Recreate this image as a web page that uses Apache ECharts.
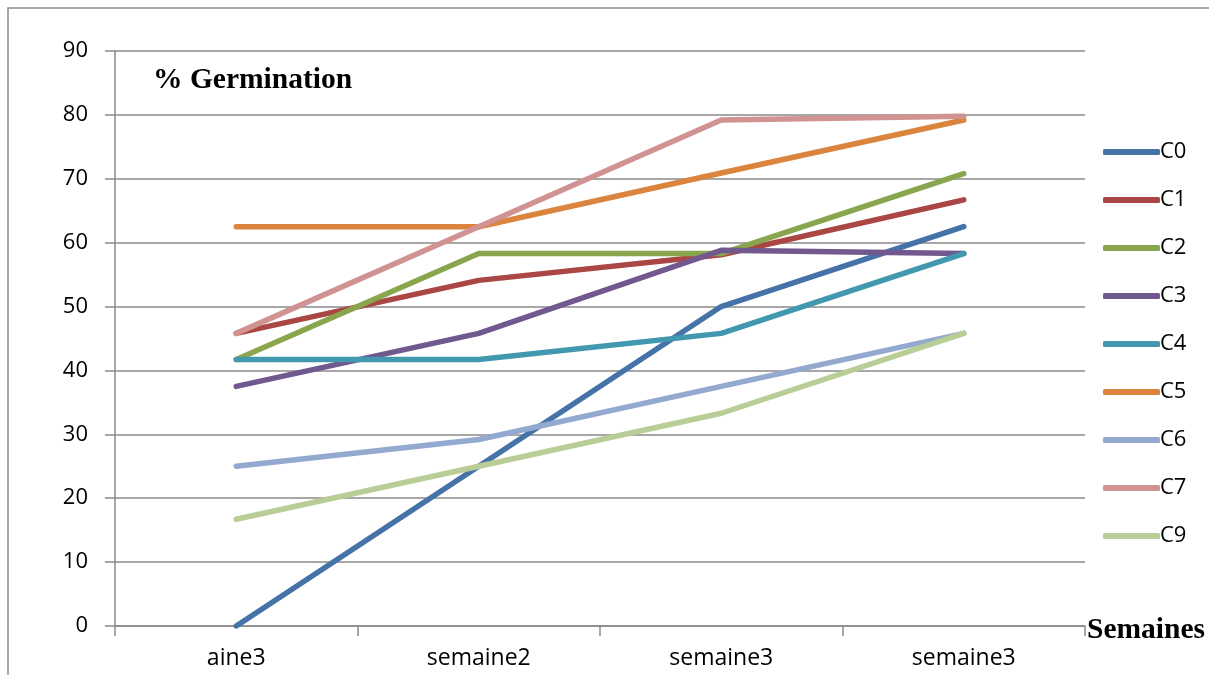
<!DOCTYPE html>
<html>
<head>
<meta charset="utf-8">
<script src="https://cdn.jsdelivr.net/npm/echarts@6/dist/echarts.min.js"></script>
<style>html,body{margin:0;padding:0;background:#fff;}#c{width:1209px;height:675px;}</style>
</head>
<body>
<div id="c"></div>
<script>
const categories = ['aine3', 'semaine2', 'semaine3', 'semaine3'];
const seriesNames = ['C0', 'C1', 'C2', 'C3', 'C4', 'C5', 'C6', 'C7', 'C9'];
const C0 = [0, 25, 50, 62.5];
const C1 = [45.8, 54.1, 58.1, 66.7];
const C2 = [41.7, 58.3, 58.3, 70.8];
const C3 = [37.5, 45.8, 58.8, 58.3];
const C4 = [41.7, 41.7, 45.8, 58.3];
const C5 = [62.5, 62.5, 70.9, 79.2];
const C6 = [25, 29.2, 37.5, 45.8];
const C7 = [45.8, 62.5, 79.2, 79.8];
const C9 = [16.7, 25, 33.3, 45.8];
const seriesData = [C0, C1, C2, C3, C4, C5, C6, C7, C9];
const colors = ['#4572A7', '#AA4643', '#89A54E', '#71588F', '#4198AF', '#DB843D', '#93A9CF', '#D19392', '#B9CD96'];
const yTicks = { min: 0, max: 90, interval: 10 };

const chart = echarts.init(document.getElementById('c'), null, { renderer: 'canvas' });
const gridColor = '#8a8a8a';
chart.setOption({
  animation: false,
  color: colors,
  grid: { left: 115, right: 124, top: 51, bottom: 49, containLabel: false },
  xAxis: {
    type: 'category',
    data: categories,
    boundaryGap: true,
    axisLine: { show: true, lineStyle: { color: gridColor, width: 1.5 } },
    axisTick: { show: true, length: 10, lineStyle: { color: gridColor, width: 1.5 } },
    axisLabel: { color: '#000', fontSize: 23, fontFamily: 'Open Sans', margin: 21 },
    splitLine: { show: false }
  },
  yAxis: {
    type: 'value',
    min: yTicks.min, max: yTicks.max, interval: yTicks.interval,
    axisLine: { show: true, lineStyle: { color: gridColor, width: 1.5 } },
    axisTick: { show: true, length: 10, lineStyle: { color: gridColor, width: 1.5 } },
    axisLabel: { color: '#000', fontSize: 22, fontFamily: 'Open Sans', margin: 27 },
    splitLine: { show: true, lineStyle: { color: gridColor, width: 1.5 } }
  },
  legend: {
    orient: 'vertical',
    left: 1098,
    top: 135,
    itemWidth: 57,
    itemHeight: 6,
    itemGap: 24,
    icon: 'roundRect',
    textStyle: { color: '#000', fontSize: 22, fontFamily: 'Open Sans', lineHeight: 24, padding: [0, 0, 0, -5] },
    data: seriesNames
  },
  graphic: [
    { type: 'rect', shape: { x: 8, y: 8, width: 1300, height: 800 }, style: { fill: 'none', stroke: '#8a8a8a', lineWidth: 1.5 }, silent: true },
    { type: 'text', left: 153, top: 65, style: { text: '% Germination', font: 'bold 29.5px "Liberation Serif"', fill: '#000' } },
    { type: 'text', left: 1087, top: 615, style: { text: 'Semaines', font: 'bold 29.5px "Liberation Serif"', fill: '#000' } }
  ],
  series: seriesNames.map((n, i) => ({
    name: n,
    type: 'line',
    data: seriesData[i],
    symbol: 'none',
    lineStyle: { width: 5.5, cap: 'round', join: 'round', color: colors[i] },
    itemStyle: { color: colors[i] }
  }))
});
</script>
</body>
</html>
